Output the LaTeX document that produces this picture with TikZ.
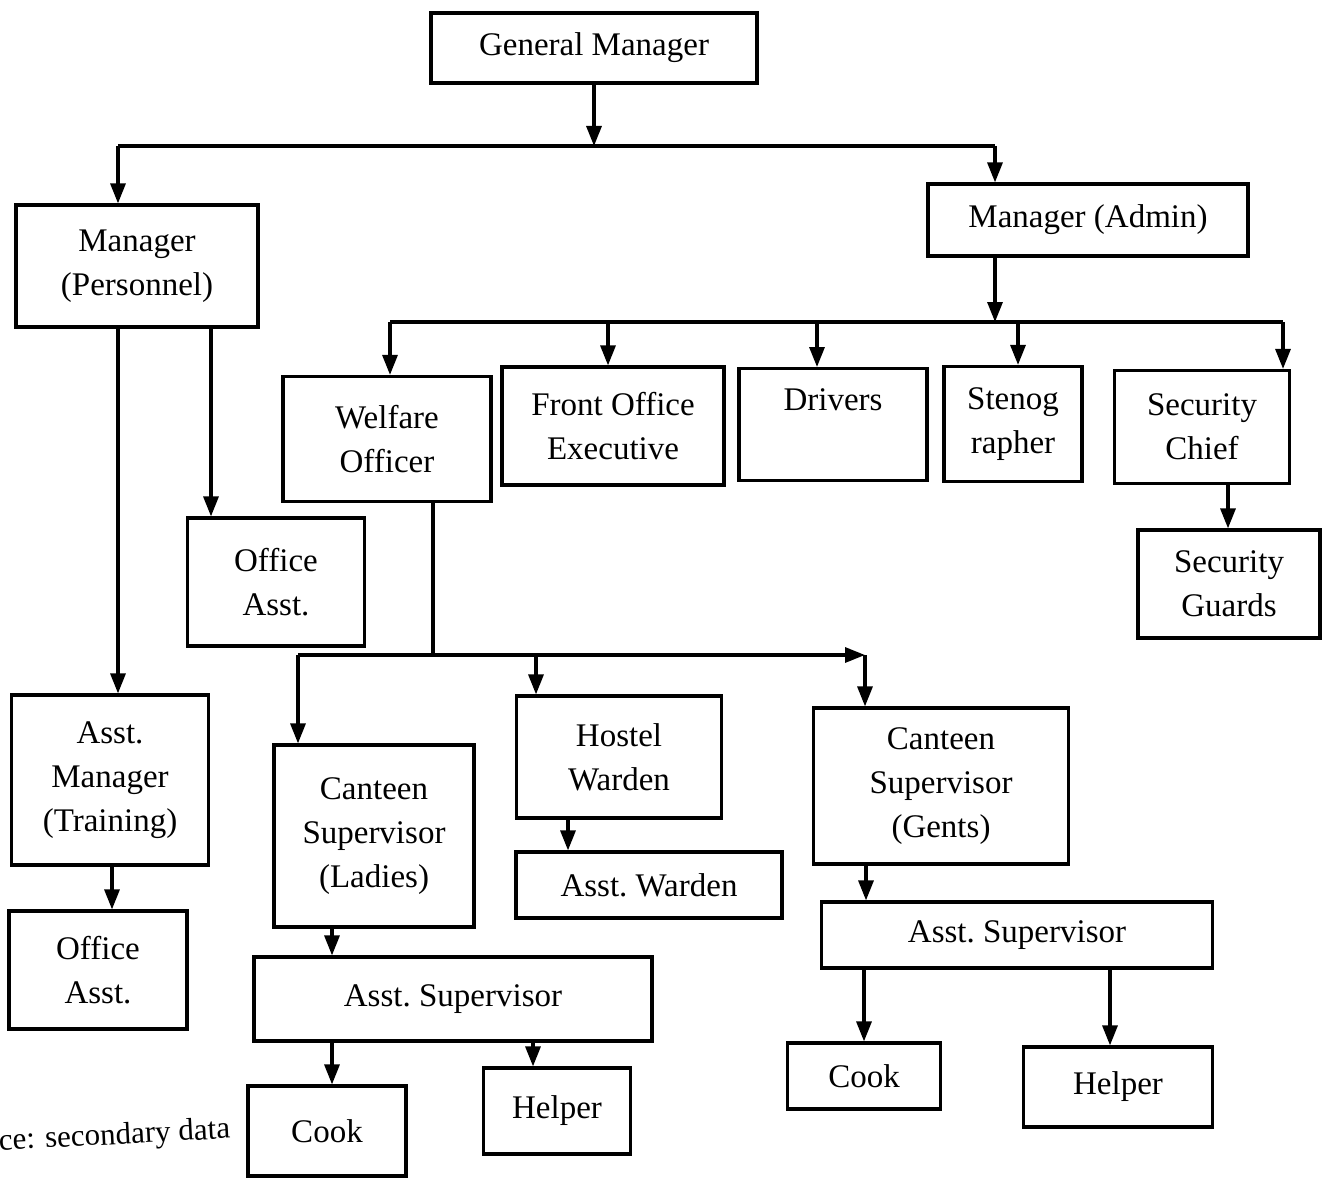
\documentclass[tikz,border=0pt]{standalone}
\usepackage{fontspec}
\setmainfont{Liberation Serif}
\usetikzlibrary{arrows.meta}
\begin{document}
\begin{tikzpicture}[x=1pt,y=-1pt,
  box/.style={draw, line width=3.2pt, align=center, inner sep=0pt,
    font=\fontsize{33}{44}\selectfont},
  link/.style={line width=3.2pt},
  arr/.style={link, -{Triangle[width=15pt,length=20pt]}}]
\useasboundingbox (0,0) rectangle (1324,1177);

% boxes: name, centre x, centre y, width, height, text
\newcommand{\orgbox}[6]{\node[box, minimum width=#4, minimum height=#5] (#1) at (#2,#3) {#6};}
\orgbox{gm}{594}{48}{326}{70}{General Manager}
\orgbox{mp}{137}{266}{242}{122}{Manager\\(Personnel)}
\orgbox{ma}{1088}{220}{320}{72}{Manager (Admin)}
\orgbox{wo}{387}{439}{208}{125}{Welfare\\Officer}
\orgbox{fo}{613}{426}{222}{118}{Front Office\\Executive}
\node[box, minimum width=188, minimum height=112, anchor=north] (dr) at (833,367) {};
\node[font=\fontsize{33}{44}\selectfont] (drt) at (833,400) {Drivers};
\orgbox{st}{1013}{424}{138}{115}{Stenog\\rapher}
\orgbox{sc}{1202}{427}{175}{113}{Security\\Chief}
\orgbox{sg}{1229}{584}{182}{108}{Security\\Guards}
\orgbox{oa}{276}{582}{177}{128}{Office\\Asst.}
\orgbox{am}{110}{780}{197}{170}{Asst.\\Manager\\(Training)}
\orgbox{ob}{98}{970}{178}{118}{Office\\Asst.}
\orgbox{cl}{374}{836}{200}{182}{Canteen\\Supervisor\\(Ladies)}
\orgbox{hw}{619}{757}{205}{122}{Hostel\\Warden}
\orgbox{aw}{649}{885}{266}{66}{Asst.\ Warden}
\orgbox{cg}{941}{786}{255}{156}{Canteen\\Supervisor\\(Gents)}
\orgbox{sr}{1017}{935}{391}{66}{Asst.\ Supervisor}
\orgbox{kr}{864}{1076}{153}{66}{Cook}
\orgbox{hr}{1118}{1087}{189}{80}{Helper}
\orgbox{sl}{453}{999}{398}{84}{Asst.\ Supervisor}
\orgbox{kl}{327}{1131}{158}{90}{Cook}
\orgbox{hl}{557}{1111}{147}{86}{Helper}

\node[anchor=base east, font=\fontsize{31}{40}\selectfont, rotate=3] (src) at (234,1138) {ce: secondary data};

% General Manager to the two managers
\coordinate (t0) at (594,146);
\coordinate (tl) at (118,146);
\coordinate (tr) at (995,146);
\draw[arr] (gm) -- (t0);
\draw[link] (tl) -- (tr);
\draw[arr] (tl) -- (tl |- mp.north);
\draw[arr] (tr) -- (tr |- ma.north);

% Manager (Personnel) branches
\coordinate (p1) at (118,327);
\coordinate (p2) at (211,327);
\draw[arr] (p1) -- (p1 |- am.north);
\draw[arr] (p2) -- (p2 |- oa.north);
\coordinate (p3) at (112,866);
\draw[arr] (p3) -- (p3 |- ob.north);

% Manager (Admin) branches
\coordinate (a0) at (995,322);
\draw[arr] (a0 |- ma.south) -- (a0);
\coordinate (a1) at (390,322);
\coordinate (a2) at (608,322);
\coordinate (a3) at (817,322);
\coordinate (a4) at (1018,322);
\coordinate (a5) at (1283,322);
\draw[link] (a1) -- (a5);
\draw[arr] (a1) -- (a1 |- wo.north);
\draw[arr] (a2) -- (a2 |- fo.north);
\draw[arr] (a3) -- (a3 |- dr.north);
\draw[arr] (a4) -- (a4 |- st.north);
\draw[arr] (a5) -- (a5 |- sc.north);
\coordinate (s1) at (1228,484);
\draw[arr] (s1) -- (s1 |- sg.north);

% Welfare Officer branches
\coordinate (w0) at (433,501);
\coordinate (w1) at (433,655);
\coordinate (wl) at (298,655);
\coordinate (wm) at (536,655);
\coordinate (wr) at (865,655);
\draw[link] (w0) -- (w1);
\draw[arr] (wl) -- (wr);
\draw[arr] (wl) -- (wl |- cl.north);
\draw[arr] (wm) -- (wm |- hw.north);
\draw[arr] (wr) -- (wr |- cg.north);
\coordinate (h1) at (568,818);
\draw[arr] (h1) -- (h1 |- aw.north);

% Canteen (Ladies) chain
\coordinate (l1) at (332,927);
\draw[arr] (l1) -- (l1 |- sl.north);
\coordinate (l2) at (332,1041);
\coordinate (l3) at (533,1041);
\draw[arr] (l2) -- (l2 |- kl.north);
\draw[arr] (l3) -- (l3 |- hl.north);

% Canteen (Gents) chain
\coordinate (g1) at (866,864);
\draw[arr] (g1) -- (g1 |- sr.north);
\coordinate (g2) at (864,968);
\coordinate (g3) at (1110,968);
\draw[arr] (g2) -- (g2 |- kr.north);
\draw[arr] (g3) -- (g3 |- hr.north);
\end{tikzpicture}
\end{document}
